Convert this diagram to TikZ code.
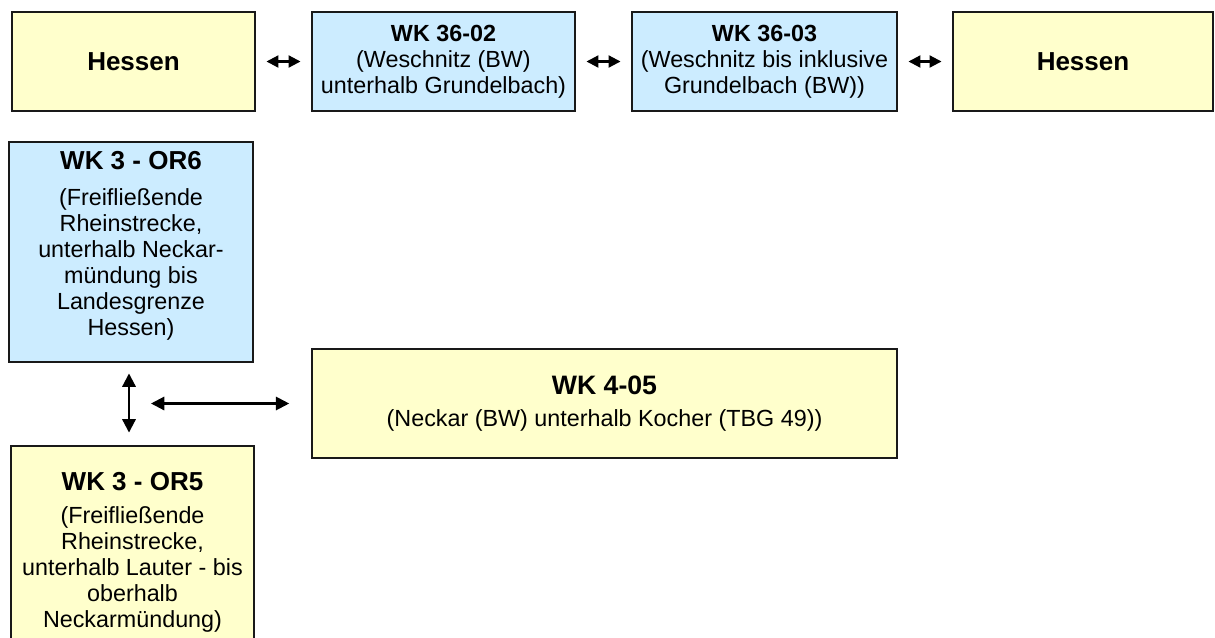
\documentclass[tikz,border=0pt]{standalone}
\usepackage{fontspec}
\setmainfont{Liberation Sans}
\usetikzlibrary{arrows.meta}

\definecolor{wkyellow}{HTML}{FFFFCC}
\definecolor{wkblue}{HTML}{CCECFF}

\newcommand{\wktitle}[1]{{\fontsize{19.5}{20}\selectfont\bfseries #1}}

\begin{document}
\begin{tikzpicture}[x=0.75pt, y=-0.75pt, >={Triangle[length=10pt,width=10pt]},
  wkbox/.style={draw=black!90, line width=1.2pt, align=center, inner sep=0pt,
    font=\fontsize{17.5}{19.5}\selectfont},
  bw/.style={wkbox, fill=wkblue},
  hes/.style={wkbox, fill=wkyellow},
  link/.style={<->, line width=1.6pt},
  small link/.style={<->, line width=1.6pt, >={Triangle[length=9pt,width=9pt]},
    shorten <=8pt, shorten >=8pt}]

\useasboundingbox (0,0) rectangle (1215,637);
\clip (0,0) rectangle (1215,637);

% --- Top row ---
\node[hes, minimum width=182.25pt, minimum height=74.25pt] (hesL) at (133.5,61.5)
  {\wktitle{Hessen}};
\node[bw, minimum width=197.25pt, minimum height=74.25pt] (wk3602) at (443.5,61.5)
  {{\fontsize{17.5}{20}\selectfont\bfseries WK 36-02}\\(Weschnitz (BW)\\unterhalb Grundelbach)};
\node[bw, minimum width=198.75pt, minimum height=74.25pt] (wk3603) at (764.5,61.5)
  {{\fontsize{17.5}{20}\selectfont\bfseries WK 36-03}\\(Weschnitz bis inklusive\\Grundelbach (BW))};
\node[hes, minimum width=195pt, minimum height=74.25pt] (hesR) at (1083,61.5)
  {\wktitle{Hessen}};

\draw[small link] (hesL) -- (wk3602);
\draw[small link] (wk3602) -- (wk3603);
\draw[small link] (wk3603) -- (hesR);

% --- Rhine and Neckar ---
\node[bw, minimum width=183pt, minimum height=165pt] (or6) at (131,252)
  {\wktitle{WK 3 - OR6}\\[7pt](Freifließende\\Rheinstrecke,\\unterhalb Neckar-\\mündung bis\\Landesgrenze\\Hessen)\rule[-13pt]{0pt}{13pt}};
\node[hes, minimum width=182.25pt, minimum height=159pt] (or5) at (132.5,552)
  {\wktitle{WK 3 - OR5}\\[5pt](Freifließende\\Rheinstrecke,\\unterhalb Lauter - bis\\oberhalb\\Neckarmündung)};
\node[hes, minimum width=438.75pt, minimum height=81.75pt] (wk405) at (604.5,403.5)
  {{\fontsize{20}{22}\selectfont\bfseries WK 4-05}\\[5pt](Neckar (BW) unterhalb Kocher (TBG 49))};

\coordinate (lnk) at (151,403.5);

\draw[link, shorten <=8pt, shorten >=9.5pt] ([xshift=-1.5pt]or6.south) -- ([xshift=-1.5pt]or6.south |- or5.north);
\draw[link, shorten >=16.5pt] (lnk) -- (wk405.west);

\end{tikzpicture}
\end{document}
